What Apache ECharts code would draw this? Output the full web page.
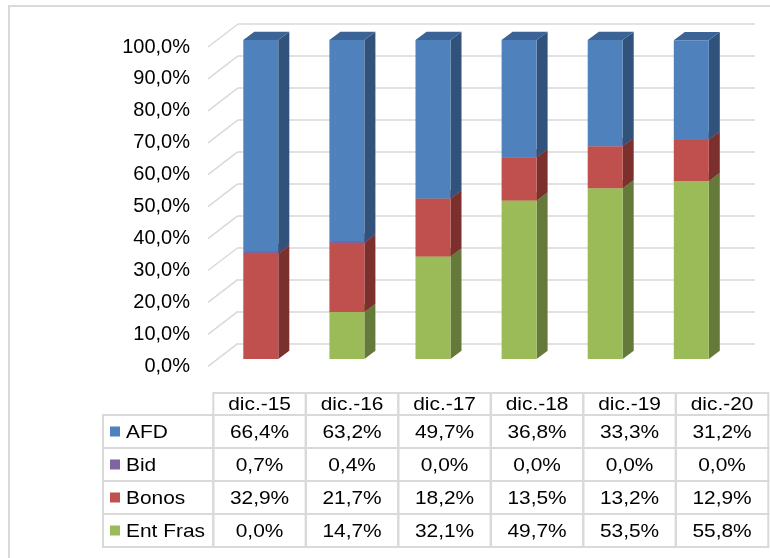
<!DOCTYPE html>
<html>
<head>
<meta charset="utf-8">
<script src="https://cdn.jsdelivr.net/npm/echarts@6/dist/echarts.min.js"></script>
<style>
    html, body { margin: 0; padding: 0; background: #fff; }
    #chart { width: 770px; height: 558px; }
</style>
</head>
<body>
<div id="chart"></div>
<script>
// datos
const categories = ['dic.-15', 'dic.-16', 'dic.-17', 'dic.-18', 'dic.-19', 'dic.-20'];
const afd = [66.4, 63.2, 49.7, 36.8, 33.3, 31.2];
const bid = [0.7, 0.4, 0.0, 0.0, 0.0, 0.0];
const bonos = [32.9, 21.7, 18.2, 13.5, 13.2, 12.9];
const entFras = [0.0, 14.7, 32.1, 49.7, 53.5, 55.8];
const yTicks = [0, 10, 20, 30, 40, 50, 60, 70, 80, 90, 100];

// colores: frente, arriba, lado
const colors = {
    AFD: ['#4F81BD', '#3B6396', '#31527A'],
    Bid: ['#8064A2', '#675183', '#51406A'],
    Bonos: ['#C0504D', '#9A3F3C', '#7B302E'],
    'Ent Fras': ['#9BBB59', '#7D9845', '#65793A']
};

const FAMILY = '"Liberation Sans", Arial, sans-serif';
const FONT = '19px ' + FAMILY;
const TXT_SCALE = 1.1;
const GRID_COLOR = '#D9D9D9';
const fmt = v => v.toFixed(1).replace('.', ',') + '%';

// orden de apilado (abajo -> arriba)
const stackOrder = [
    { name: 'Ent Fras', data: entFras },
    { name: 'Bonos', data: bonos },
    { name: 'Bid', data: bid },
    { name: 'AFD', data: afd }
];
// orden de la tabla
const tableRows = [
    { name: 'AFD', data: afd },
    { name: 'Bid', data: bid },
    { name: 'Bonos', data: bonos },
    { name: 'Ent Fras', data: entFras }
];

const chart = echarts.init(document.getElementById('chart'));

const BAR_W = 35;
const DEPTH = [11, -8.3];

function barItem(params, api) {
    const cat = api.value(0);
    const base = api.value(1);
    const top = api.value(2);
    if (top - base <= 0) return null;
    const pb = api.coord([cat, base]);
    const pt = api.coord([cat, top]);
    const x0 = pb[0] - BAR_W / 2;
    const x1 = pb[0] + BAR_W / 2;
    const yb = pb[1];
    const yt = pt[1];
    const [dx, dy] = DEPTH;
    const c = colors[params.seriesName];
    return {
        type: 'group',
        children: [
            { type: 'polygon', shape: { points: [[x1, yt], [x1 + dx, yt + dy], [x1 + dx, yb + dy], [x1, yb]] }, style: { fill: c[2] } },
            { type: 'polygon', shape: { points: [[x0, yt], [x0 + dx, yt + dy], [x1 + dx, yt + dy], [x1, yt]] }, style: { fill: c[1] } },
            { type: 'rect', shape: { x: x0, y: yt, width: BAR_W, height: yb - yt }, style: { fill: c[0] } }
        ]
    };
}

// acumulados para apilar
const cum = categories.map(() => 0);
const barSeries = stackOrder.map(s => {
    const data = s.data.map((v, i) => {
        const item = [i, cum[i], cum[i] + v];
        cum[i] += v;
        return item;
    });
    return {
        name: s.name,
        type: 'custom',
        xAxisIndex: 2,
        yAxisIndex: 2,
        renderItem: barItem,
        data: data,
        silent: true
    };
});

// lineas diagonales de la pared lateral
const diagSeries = {
    type: 'custom',
    xAxisIndex: 0,
    yAxisIndex: 0,
    silent: true,
    data: yTicks.map(v => [0, v]),
    renderItem: (params, api) => {
        const p = api.coord([0, api.value(1)]);
        return {
            type: 'line',
            shape: { x1: p[0] - 30, y1: p[1] + 23, x2: p[0], y2: p[1] },
            style: { stroke: GRID_COLOR, lineWidth: 1.5 }
        };
    }
};

// tabla de datos
const TBL = { labelX: 103, x0: 213.3, colW: 92.5, headTop: 393, headH: 22, rowH: 33 };
const graphics = [];
const textEl = (x, y, text, align) => ({
    type: 'text',
    x: x,
    y: y,
    scaleX: TXT_SCALE,
    style: { text: text, font: FONT, fill: '#000', align: align, verticalAlign: 'middle', textAlign: align, textVerticalAlign: 'middle' }
});
graphics.push({
    type: 'rect',
    shape: { x: 9, y: 6, width: 800, height: 600 },
    style: { fill: 'none', stroke: GRID_COLOR, lineWidth: 2 },
    z: 0
});
categories.forEach((c, j) => {
    const x = TBL.x0 + j * TBL.colW;
    graphics.push({
        type: 'rect',
        shape: { x: x, y: TBL.headTop, width: TBL.colW, height: TBL.headH },
        style: { fill: 'none', stroke: GRID_COLOR, lineWidth: 2 }
    });
    graphics.push(textEl(x + TBL.colW / 2, TBL.headTop + TBL.headH / 2 + 1, c, 'center'));
});
tableRows.forEach((r, i) => {
    const y = TBL.headTop + TBL.headH + i * TBL.rowH;
    graphics.push({
        type: 'rect',
        shape: { x: TBL.labelX, y: y, width: TBL.x0 - TBL.labelX, height: TBL.rowH },
        style: { fill: 'none', stroke: GRID_COLOR, lineWidth: 2 }
    });
    graphics.push({
        type: 'rect',
        shape: { x: TBL.labelX + 7, y: y + TBL.rowH / 2 - 5, width: 10, height: 10 },
        style: { fill: colors[r.name][0] }
    });
    graphics.push(textEl(TBL.labelX + 23, y + TBL.rowH / 2 + 1, r.name, 'left'));
    r.data.forEach((v, j) => {
        const x = TBL.x0 + j * TBL.colW;
        graphics.push({
            type: 'rect',
            shape: { x: x, y: y, width: TBL.colW, height: TBL.rowH },
            style: { fill: 'none', stroke: GRID_COLOR, lineWidth: 2 }
        });
        graphics.push(textEl(x + TBL.colW / 2, y + TBL.rowH / 2 + 1, fmt(v), 'center'));
    });
});

const option = {
    animation: false,
    backgroundColor: '#fff',
    grid: [
        // pared del fondo
        { left: 238, right: 15, top: 24, bottom: 214.7 },
        // plano frontal (etiquetas)
        { left: 208, right: 15, top: 47, bottom: 191.5 },
        // plano de barras
        { left: 217.75, right: 35.65, top: 40, bottom: 199 }
    ],
    xAxis: [
        { type: 'value', gridIndex: 0, min: 0, max: 1, show: false },
        { type: 'value', gridIndex: 1, min: 0, max: 1, show: false },
        { type: 'category', gridIndex: 2, data: categories, show: false }
    ],
    yAxis: [
        {
            type: 'value', gridIndex: 0, min: 0, max: 100, interval: 10,
            axisLine: { show: false }, axisTick: { show: false }, axisLabel: { show: false },
            splitLine: { show: true, lineStyle: { color: GRID_COLOR, width: 1.5 } }
        },
        {
            type: 'value', gridIndex: 1, min: 0, max: 100, interval: 10,
            axisLine: { show: false }, axisTick: { show: false }, splitLine: { show: false },
            axisLabel: {
                margin: 18,
                color: '#000',
                fontSize: 20,
                fontFamily: FAMILY,
                formatter: v => fmt(v)
            }
        },
        { type: 'value', gridIndex: 2, min: 0, max: 100, show: false }
    ],
    series: [diagSeries].concat(barSeries),
    graphic: graphics
};

chart.setOption(option);
</script>
</body>
</html>
